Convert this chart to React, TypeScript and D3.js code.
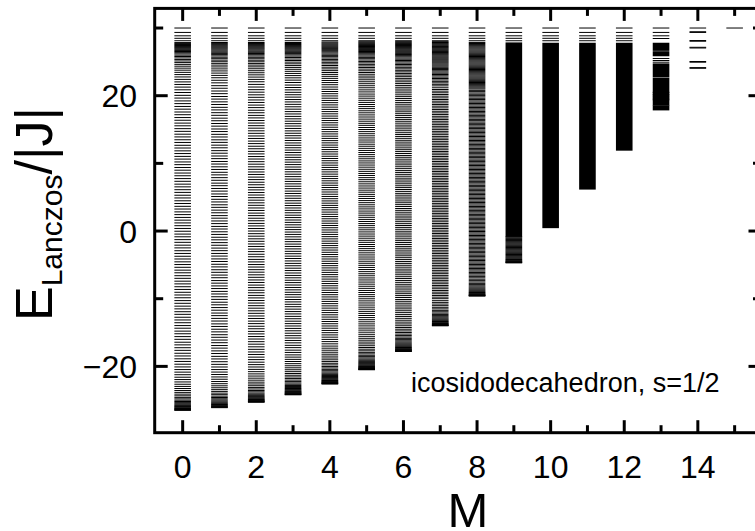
import React from 'react';
import * as d3 from 'd3';

const W = 755;
const H = 531;

// Lanczos energy levels per magnetization sector M
const levelsM0 = [-26.5,-26.44,-26.37,-26.3,-26.22,-26.13,-26.03,-25.92,-25.8,-25.67,-25.52,-25.36,-25.19,-25.0,-24.8,-24.58,-24.35,-24.1,-23.84,-23.56,-23.27,-22.96,-22.64,-22.3,-21.95,-21.6,-21.23,-20.85,-20.47,-20.08,-19.68,-19.27,-18.88,-18.46,-18.06,-17.63,-17.24,-16.82,-16.43,-16.0,-15.6,-15.18,-14.79,-14.36,-13.97,-13.55,-13.14,-12.74,-12.31,-11.92,-11.5,-11.1,-10.68,-10.28,-9.86,-9.45,-9.05,-8.63,-8.23,-7.81,-7.41,-6.99,-6.6,-6.17,-5.78,-5.36,-4.95,-4.55,-4.13,-3.73,-3.31,-2.91,-2.49,-2.09,-1.67,-1.27,-0.85,-0.45,-0.03,0.38,0.79,1.2,1.61,2.01,2.43,2.83,3.25,3.65,4.07,4.47,4.89,5.29,5.71,6.11,6.53,6.93,7.35,7.75,8.17,8.57,8.99,9.39,9.81,10.21,10.63,11.03,11.45,11.85,12.27,12.67,13.09,13.49,13.91,14.31,14.73,15.13,15.55,15.95,16.37,16.77,17.19,17.59,18.01,18.41,18.83,19.23,19.65,20.05,20.47,20.87,21.27,21.66,22.04,22.41,22.77,23.12,23.45,23.77,24.07,24.36,24.63,24.89,25.13,25.36,25.58,25.79,25.99,26.18,26.36,26.53,26.69,26.85,27.0,27.14,27.28,27.42,27.56,27.7,27.85,28.12,28.48,28.85,29.35,30.0];
const levelsM1 = [-26.1,-26.04,-25.97,-25.9,-25.82,-25.73,-25.63,-25.52,-25.4,-25.27,-25.12,-24.96,-24.79,-24.6,-24.4,-24.18,-23.95,-23.7,-23.44,-23.16,-22.87,-22.56,-22.24,-21.9,-21.56,-21.2,-20.84,-20.47,-20.09,-19.7,-19.31,-18.9,-18.52,-18.1,-17.71,-17.3,-16.92,-16.5,-16.11,-15.7,-15.32,-14.9,-14.51,-14.1,-13.72,-13.3,-12.91,-12.5,-12.12,-11.7,-11.31,-10.9,-10.52,-10.1,-9.71,-9.3,-8.92,-8.5,-8.11,-7.7,-7.32,-6.9,-6.51,-6.1,-5.72,-5.3,-4.91,-4.5,-4.12,-3.7,-3.31,-2.9,-2.52,-2.1,-1.71,-1.3,-0.92,-0.5,-0.11,0.3,0.68,1.1,1.49,1.9,2.28,2.7,3.09,3.5,3.88,4.3,4.69,5.1,5.48,5.9,6.29,6.7,7.08,7.5,7.89,8.3,8.68,9.1,9.49,9.9,10.28,10.7,11.09,11.5,11.88,12.3,12.69,13.1,13.48,13.9,14.29,14.7,15.08,15.5,15.89,16.3,16.68,17.1,17.49,17.9,18.28,18.7,19.09,19.5,19.88,20.3,20.69,21.1,21.48,21.9,22.28,22.65,23.0,23.34,23.66,23.96,24.25,24.52,24.78,25.02,25.25,25.47,25.68,25.88,26.07,26.25,26.42,26.58,26.74,26.89,27.03,27.17,27.31,27.45,27.59,27.73,27.86,28.12,28.48,28.85,29.35,30.0];
const levelsM2 = [-25.3,-25.25,-25.19,-25.13,-25.06,-24.98,-24.89,-24.79,-24.68,-24.56,-24.43,-24.28,-24.12,-23.95,-23.76,-23.56,-23.34,-23.11,-22.86,-22.6,-22.33,-22.04,-21.74,-21.43,-21.11,-20.78,-20.44,-20.09,-19.74,-19.38,-19.0,-18.63,-18.24,-17.87,-17.48,-17.11,-16.72,-16.35,-15.96,-15.59,-15.2,-14.83,-14.44,-14.07,-13.68,-13.31,-12.92,-12.55,-12.16,-11.79,-11.4,-11.03,-10.64,-10.27,-9.88,-9.51,-9.12,-8.75,-8.36,-7.99,-7.6,-7.23,-6.84,-6.47,-6.08,-5.71,-5.32,-4.95,-4.56,-4.19,-3.8,-3.43,-3.04,-2.67,-2.28,-1.91,-1.52,-1.15,-0.76,-0.39,0.0,0.37,0.76,1.13,1.52,1.89,2.28,2.65,3.04,3.41,3.8,4.17,4.56,4.93,5.32,5.69,6.08,6.45,6.84,7.21,7.6,7.97,8.36,8.73,9.12,9.49,9.88,10.25,10.64,11.01,11.4,11.77,12.16,12.53,12.92,13.29,13.68,14.05,14.44,14.81,15.2,15.57,15.96,16.33,16.72,17.09,17.48,17.85,18.24,18.61,19.0,19.37,19.76,20.13,20.52,20.89,21.28,21.67,22.06,22.41,22.75,23.08,23.39,23.69,23.98,24.26,24.52,24.77,25.01,25.24,25.46,25.67,25.87,26.06,26.24,26.41,26.57,26.73,26.88,27.02,27.16,27.3,27.44,27.58,27.72,27.86,28.12,28.48,28.85,29.35,30.0];
const levelsM3 = [-24.2,-24.15,-24.1,-24.04,-23.97,-23.9,-23.82,-23.73,-23.63,-23.52,-23.4,-23.27,-23.13,-22.98,-22.82,-22.64,-22.45,-22.25,-22.03,-21.8,-21.56,-21.31,-21.05,-20.78,-20.5,-20.21,-19.91,-19.6,-19.28,-18.96,-18.63,-18.3,-17.94,-17.6,-17.23,-16.89,-16.52,-16.17,-15.81,-15.46,-15.1,-14.74,-14.39,-14.03,-13.68,-13.32,-12.96,-12.61,-12.25,-11.9,-11.54,-11.18,-10.83,-10.47,-10.12,-9.76,-9.4,-9.05,-8.69,-8.34,-7.98,-7.62,-7.27,-6.91,-6.56,-6.2,-5.84,-5.49,-5.13,-4.78,-4.42,-4.06,-3.71,-3.35,-3.0,-2.64,-2.28,-1.93,-1.57,-1.22,-0.86,-0.5,-0.15,0.21,0.56,0.92,1.28,1.63,1.99,2.34,2.7,3.06,3.41,3.77,4.12,4.48,4.84,5.19,5.55,5.9,6.26,6.62,6.97,7.33,7.68,8.04,8.4,8.75,9.11,9.46,9.82,10.18,10.53,10.89,11.24,11.6,11.96,12.31,12.67,13.02,13.38,13.74,14.09,14.45,14.8,15.16,15.52,15.87,16.23,16.58,16.94,17.3,17.65,18.01,18.36,18.72,19.08,19.43,19.79,20.14,20.5,20.86,21.21,21.57,21.95,22.3,22.64,22.97,23.29,23.6,23.9,24.18,24.45,24.71,24.96,25.2,25.42,25.64,25.85,26.04,26.22,26.4,26.56,26.72,26.87,27.01,27.15,27.29,27.43,27.57,27.71,27.86,28.12,28.48,28.85,29.35,30.0];
const levelsM4 = [-22.6,-22.56,-22.51,-22.46,-22.4,-22.33,-22.26,-22.18,-22.09,-21.99,-21.88,-21.76,-21.63,-21.49,-21.34,-21.18,-21.01,-20.83,-20.64,-20.44,-20.23,-20.01,-19.78,-19.54,-19.29,-19.03,-18.76,-18.48,-18.2,-17.91,-17.61,-17.31,-17.0,-16.67,-16.34,-16.01,-15.68,-15.35,-15.02,-14.69,-14.36,-14.03,-13.7,-13.37,-13.04,-12.71,-12.38,-12.05,-11.72,-11.39,-11.06,-10.73,-10.4,-10.07,-9.74,-9.41,-9.08,-8.75,-8.42,-8.09,-7.76,-7.43,-7.1,-6.77,-6.44,-6.11,-5.78,-5.45,-5.12,-4.79,-4.46,-4.13,-3.8,-3.47,-3.14,-2.81,-2.48,-2.15,-1.82,-1.49,-1.16,-0.83,-0.5,-0.17,0.16,0.49,0.82,1.15,1.48,1.81,2.14,2.47,2.8,3.13,3.46,3.79,4.12,4.45,4.78,5.11,5.44,5.77,6.1,6.43,6.76,7.09,7.42,7.75,8.08,8.41,8.74,9.07,9.4,9.73,10.06,10.39,10.72,11.05,11.38,11.71,12.04,12.37,12.7,13.03,13.36,13.69,14.02,14.35,14.68,15.01,15.34,15.67,16.0,16.33,16.66,16.99,17.32,17.65,17.98,18.31,18.64,18.97,19.3,19.63,19.96,20.29,20.62,20.95,21.28,21.62,21.94,22.25,22.56,22.86,23.15,23.43,23.7,23.96,24.21,24.46,24.7,24.93,25.15,25.36,25.57,25.77,25.96,26.14,26.32,26.49,26.65,26.8,26.95,27.09,27.23,27.37,27.51,27.65,27.79,27.93,28.12,28.48,28.85,29.35,30.0];
const levelsM5 = [-20.5,-20.46,-20.42,-20.37,-20.31,-20.25,-20.18,-20.1,-20.01,-19.91,-19.8,-19.68,-19.55,-19.41,-19.26,-19.1,-18.93,-18.75,-18.56,-18.36,-18.15,-17.93,-17.7,-17.46,-17.21,-16.95,-16.68,-16.41,-16.13,-15.85,-15.56,-15.26,-14.95,-14.64,-14.34,-14.02,-13.72,-13.41,-13.1,-12.79,-12.48,-12.17,-11.87,-11.55,-11.25,-10.94,-10.63,-10.32,-10.01,-9.7,-9.4,-9.08,-8.78,-8.47,-8.16,-7.85,-7.54,-7.23,-6.93,-6.61,-6.31,-6.0,-5.69,-5.38,-5.07,-4.76,-4.46,-4.14,-3.84,-3.53,-3.22,-2.91,-2.6,-2.29,-1.99,-1.67,-1.37,-1.06,-0.75,-0.44,-0.13,0.18,0.48,0.8,1.1,1.41,1.72,2.03,2.34,2.65,2.95,3.27,3.57,3.88,4.19,4.5,4.81,5.12,5.42,5.74,6.04,6.35,6.66,6.97,7.28,7.59,7.89,8.21,8.51,8.82,9.13,9.44,9.75,10.06,10.36,10.68,10.98,11.29,11.6,11.91,12.22,12.53,12.83,13.15,13.45,13.76,14.07,14.38,14.69,15.0,15.3,15.62,15.92,16.23,16.54,16.85,17.16,17.47,17.77,18.09,18.39,18.7,19.01,19.32,19.63,19.94,20.24,20.56,20.86,21.17,21.47,21.77,22.06,22.35,22.63,22.9,23.17,23.43,23.68,23.93,24.17,24.4,24.63,24.85,25.06,25.27,25.47,25.66,25.85,26.03,26.2,26.37,26.53,26.69,26.84,26.99,27.13,27.27,27.41,27.55,27.69,27.83,27.97,28.12,28.48,28.85,29.35,30.0];
const levelsM6 = [-17.8,-17.76,-17.72,-17.67,-17.61,-17.55,-17.48,-17.4,-17.31,-17.21,-17.1,-16.98,-16.85,-16.71,-16.56,-16.4,-16.23,-16.05,-15.86,-15.66,-15.45,-15.23,-15.0,-14.76,-14.51,-14.26,-14.0,-13.73,-13.46,-13.18,-12.9,-12.62,-12.35,-12.06,-11.78,-11.5,-11.23,-10.94,-10.66,-10.38,-10.11,-9.82,-9.54,-9.26,-8.99,-8.7,-8.42,-8.14,-7.87,-7.58,-7.3,-7.02,-6.75,-6.46,-6.18,-5.9,-5.63,-5.34,-5.06,-4.78,-4.51,-4.22,-3.94,-3.66,-3.39,-3.1,-2.82,-2.54,-2.27,-1.98,-1.7,-1.42,-1.15,-0.86,-0.58,-0.3,-0.03,0.26,0.54,0.82,1.09,1.38,1.66,1.94,2.21,2.5,2.78,3.06,3.33,3.62,3.9,4.18,4.45,4.74,5.02,5.3,5.57,5.86,6.14,6.42,6.69,6.98,7.26,7.54,7.81,8.1,8.38,8.66,8.93,9.22,9.5,9.78,10.05,10.34,10.62,10.9,11.17,11.46,11.74,12.02,12.29,12.58,12.86,13.14,13.41,13.7,13.98,14.26,14.53,14.82,15.1,15.38,15.65,15.94,16.22,16.5,16.77,17.06,17.34,17.62,17.89,18.18,18.46,18.74,19.01,19.3,19.58,19.86,20.13,20.42,20.7,20.98,21.25,21.52,21.79,22.05,22.31,22.56,22.81,23.05,23.29,23.52,23.75,23.97,24.19,24.4,24.61,24.81,25.01,25.2,25.39,25.57,25.75,25.92,26.09,26.25,26.41,26.56,26.71,26.86,27.0,27.14,27.28,27.42,27.56,27.7,27.84,27.98,28.12,28.48,28.85,29.35,30.0];
const levelsM7 = [-14.0,-13.97,-13.93,-13.88,-13.82,-13.75,-13.67,-13.58,-13.48,-13.37,-13.25,-13.12,-12.98,-12.83,-12.67,-12.5,-12.32,-12.13,-11.93,-11.72,-11.5,-11.27,-11.03,-10.79,-10.54,-10.29,-10.0,-9.77,-9.52,-9.27,-9.03,-8.78,-8.53,-8.28,-8.04,-7.79,-7.54,-7.29,-7.05,-6.8,-6.55,-6.3,-6.06,-5.81,-5.56,-5.31,-5.07,-4.82,-4.57,-4.32,-4.08,-3.83,-3.58,-3.33,-3.09,-2.84,-2.59,-2.34,-2.1,-1.85,-1.6,-1.35,-1.11,-0.86,-0.61,-0.36,-0.12,0.13,0.38,0.63,0.87,1.12,1.37,1.62,1.86,2.11,2.36,2.61,2.85,3.1,3.35,3.6,3.84,4.09,4.34,4.59,4.83,5.08,5.33,5.58,5.82,6.07,6.32,6.57,6.81,7.06,7.31,7.56,7.8,8.05,8.3,8.55,8.79,9.04,9.29,9.54,9.78,10.03,10.28,10.53,10.77,11.02,11.27,11.52,11.76,12.01,12.26,12.51,12.75,13.0,13.25,13.5,13.74,13.99,14.24,14.49,14.73,14.98,15.23,15.48,15.72,15.97,16.22,16.47,16.71,16.96,17.21,17.46,17.7,17.95,18.2,18.45,18.69,18.94,19.19,19.44,19.68,19.93,20.18,20.43,20.67,20.92,21.17,21.45,21.68,21.9,22.12,22.33,22.54,22.74,22.94,23.13,23.32,23.5,23.68,23.86,24.03,24.2,24.37,24.53,24.69,24.85,25.0,25.15,25.3,25.44,25.58,25.72,25.86,26.0,26.13,26.26,26.39,26.52,26.65,26.78,26.9,27.02,27.14,27.26,27.38,27.5,27.62,27.74,27.86,27.98,28.12,28.48,28.85,29.35,30.0];
const levelsM8 = [-9.6,-9.57,-9.53,-9.48,-9.42,-9.35,-9.27,-9.18,-9.08,-8.97,-8.85,-8.72,-8.58,-8.43,-8.27,-8.1,-7.92,-7.73,-7.53,-7.33,-7.12,-6.91,-6.7,-6.51,-6.31,-6.12,-5.92,-5.73,-5.53,-5.34,-5.14,-4.95,-4.75,-4.56,-4.36,-4.17,-3.97,-3.78,-3.58,-3.39,-3.19,-3.0,-2.8,-2.61,-2.41,-2.22,-2.02,-1.83,-1.63,-1.44,-1.24,-1.05,-0.85,-0.66,-0.46,-0.27,-0.07,0.12,0.32,0.51,0.71,0.9,1.1,1.29,1.49,1.68,1.88,2.07,2.27,2.46,2.66,2.85,3.05,3.24,3.44,3.63,3.83,4.02,4.22,4.41,4.61,4.8,5.0,5.19,5.39,5.58,5.78,5.97,6.17,6.36,6.56,6.75,6.95,7.14,7.34,7.53,7.73,7.92,8.12,8.31,8.51,8.7,8.9,9.09,9.29,9.48,9.68,9.87,10.07,10.26,10.46,10.65,10.85,11.04,11.24,11.43,11.63,11.82,12.02,12.21,12.41,12.6,12.8,12.99,13.19,13.38,13.58,13.77,13.97,14.16,14.36,14.55,14.75,14.94,15.14,15.33,15.53,15.72,15.92,16.11,16.31,16.5,16.7,16.89,17.09,17.28,17.48,17.67,17.87,18.06,18.26,18.45,18.65,18.84,19.04,19.23,19.43,19.62,19.82,20.01,20.21,20.4,20.6,20.79,20.99,21.15,21.31,21.47,21.63,21.79,21.95,22.11,22.27,22.43,22.59,22.75,22.91,23.07,23.23,23.39,23.55,23.71,23.87,24.03,24.19,24.35,24.51,24.67,24.83,24.99,25.15,25.31,25.47,25.63,25.79,25.95,26.11,26.27,26.43,26.59,26.75,26.91,27.07,27.23,27.39,27.55,27.71,27.87,28.12,28.48,28.85,29.35,30.0];
const levelsM9 = [-4.7,-4.66,-4.61,-4.55,-4.48,-4.4,-4.31,-4.21,-4.1,-3.98,-3.86,-3.73,-3.6,-3.47,-3.34,-3.21,-3.08,-2.95,-2.82,-2.69,-2.56,-2.43,-2.3,-2.17,-2.04,-1.91,-1.78,-1.65,-1.52,-1.39,-1.26,-1.13,-1.0,-0.87,28.12,28.48,28.85,29.35,30.0];
const levelsM10 = [28.12, 28.48, 28.85, 29.35, 30.0];
const levelsM11 = [28.12, 28.48, 28.85, 29.35, 30.0];
const levelsM12 = [28.12, 28.48, 28.85, 29.35, 30.0];
const levelsM13 = [25.5, 25.2, 24.95, 20.5, 20.2, 19.95, 19.65, 19.4, 28.45, 28.85, 29.35, 30.0];
const levelsM14 = [24.05, 24.15, 24.95, 25.05, 27.05, 27.15, 28.05, 28.15, 29.35, 29.45, 30.0];
const levelsM15 = [30.0];

// unresolved (quasi-continuous) ranges of levels
const bandM = [9, 10, 11, 12, 13, 13, 13, 13, 13];
const bandLo = [-0.8, 0.5, 6.2, 11.95, 26.7, 25.9, 22.8, 18.6, 17.9];
const bandHi = [27.8, 27.75, 27.75, 27.75, 27.75, 26.5, 24.7, 22.6, 18.5];

const levelColumns = [levelsM0, levelsM1, levelsM2, levelsM3, levelsM4, levelsM5, levelsM6, levelsM7, levelsM8, levelsM9, levelsM10, levelsM11, levelsM12, levelsM13, levelsM14, levelsM15];

const xTickValues = [0,1,2,3,4,5,6,7,8,9,10,11,12,13,14,15];
const xTickLabels = ['0','2','4','6','8','10','12','14'];
const xLabelValues = [0,2,4,6,8,10,12,14];
const yTickValues = [-20,-10,0,10,20,30];
const yLabelValues = [-20, 0, 20];
const yTickLabels = ['\u221220', '0', '20'];

const FONT = '"Liberation Sans Narrow", "Liberation Sans", Arial, sans-serif';

export default function App() {
  const left = 154.7, right = 761.5, top = 8.4, bottom = 432.7;
  const x = d3.scaleLinear().domain([-0.76, 15.73]).range([left, right]);
  const y = d3.scaleLinear().domain([-29.8, 32.9]).range([bottom, top]);
  const halfW = 8.3;

  const paths = levelColumns.map((vals, m) => {
    const p = d3.path();
    const cx = x(m);
    vals.forEach((v) => {
      p.moveTo(cx - halfW, y(v));
      p.lineTo(cx + halfW, y(v));
    });
    return p.toString();
  });

  const isMajorX = (v: number) => v % 2 === 0;
  const isMajorY = (v: number) => v % 20 === 0;

  return (
    <svg width={W} height={H} style={{ position: 'absolute', left: 0, top: 0, background: '#fff' }}>
      <rect x={0} y={0} width={W} height={H} fill="#fff" />
      {paths.map((d, i) => (
        <path key={'p' + i} d={d} stroke="#000" strokeWidth={1} fill="none" />
      ))}
      {bandM.map((m, i) => (
        <rect key={'b' + i} x={x(m) - halfW} width={2 * halfW} y={y(bandHi[i]) - 0.5} height={y(bandLo[i]) - y(bandHi[i]) + 1} fill="#000" />
      ))}
      <rect x={left} y={top} width={right - left} height={bottom - top} fill="none" stroke="#000" strokeWidth={3} />
      {xTickValues.map((v) => {
        const len = isMajorX(v) ? 12.5 : 7.5;
        return (
          <g key={'xt' + v}>
            <line x1={x(v)} x2={x(v)} y1={bottom} y2={bottom - len} stroke="#000" strokeWidth={3} />
            <line x1={x(v)} x2={x(v)} y1={top} y2={top + len} stroke="#000" strokeWidth={3} />
          </g>
        );
      })}
      {yTickValues.map((v) => {
        const len = isMajorY(v) ? 13 : 8.5;
        return (
          <g key={'yt' + v}>
            <line x1={left} x2={left + len} y1={y(v)} y2={y(v)} stroke="#000" strokeWidth={3} />
            <line x1={right} x2={right - len} y1={y(v)} y2={y(v)} stroke="#000" strokeWidth={3} />
          </g>
        );
      })}
      {xLabelValues.map((v, i) => (
        <text key={'xl' + v} x={x(v)} y={478} textAnchor="middle" fontFamily={FONT} fontSize={32}>{xTickLabels[i]}</text>
      ))}
      {yLabelValues.map((v, i) => (
        <text key={'yl' + v} x={137} y={y(v) + 11.5} textAnchor="end" fontFamily={FONT} fontSize={32}>{yTickLabels[i]}</text>
      ))}
      <text x={468} y={527} textAnchor="middle" fontFamily={FONT} fontSize={49}>M</text>
      <text transform="translate(52,321) rotate(-90)" fontFamily={FONT} fontSize={52}>
        E<tspan fontSize={30} dy={10}>Lanczos</tspan><tspan dy={-10}>/|J|</tspan>
      </text>
      <text x={411} y={391.5} fontFamily={'"Liberation Sans", Arial, sans-serif'} fontSize={27}>icosidodecahedron,  s=1/2</text>
    </svg>
  );
}
